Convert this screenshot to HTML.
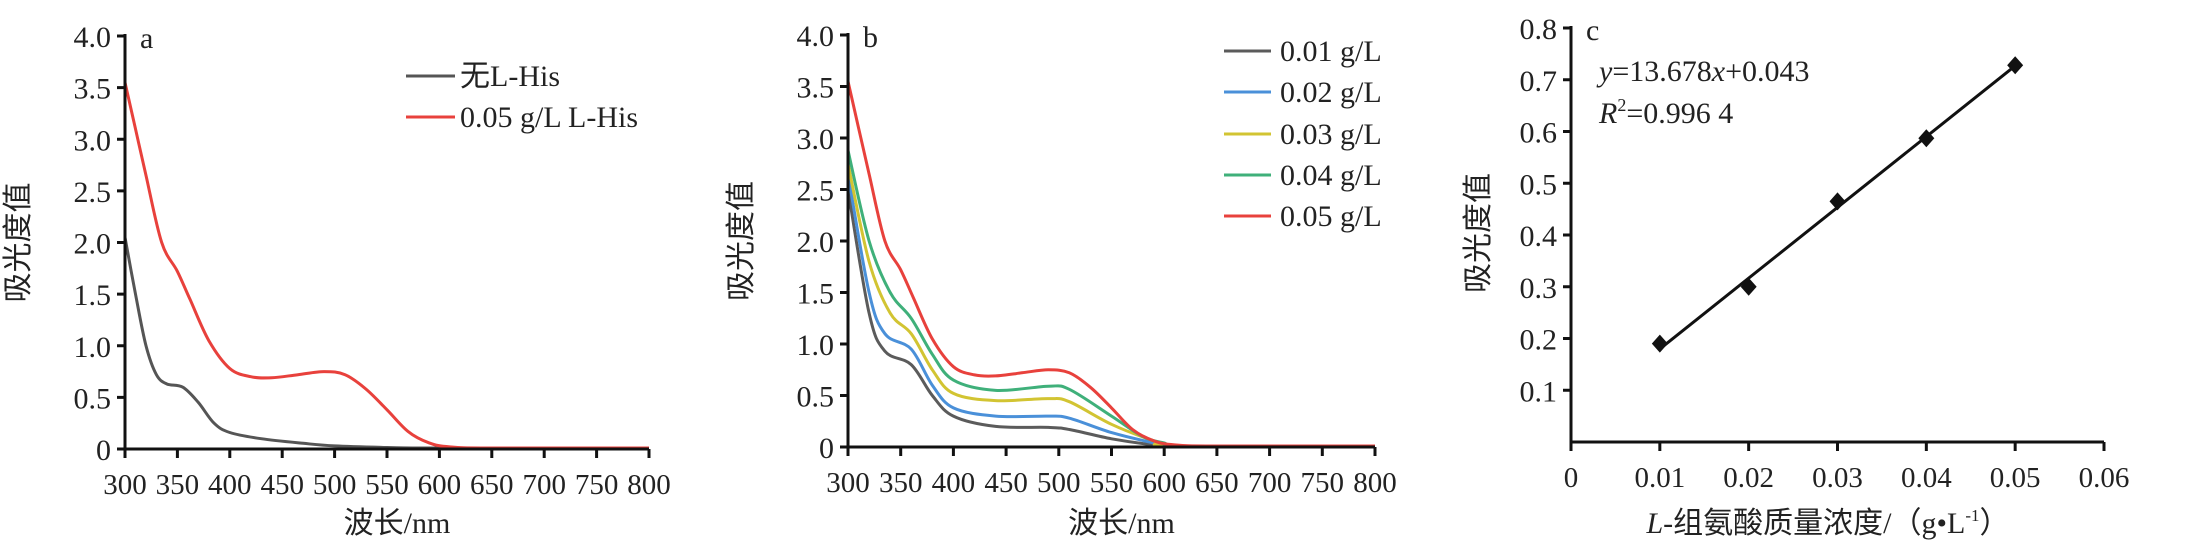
<!DOCTYPE html>
<html><head><meta charset="utf-8"><style>
html,body{margin:0;padding:0;background:#fff}
svg{display:block}
text{font-family:"Liberation Serif","Noto Serif CJK SC",serif;fill:#222}
.cn{font-family:"Liberation Serif","Noto Sans CJK SC",sans-serif}
</style></head><body>
<svg id="s" width="2196" height="552" xmlns="http://www.w3.org/2000/svg"></svg>
<script>
const s=document.getElementById('s');let h='';
function T(x,y,t,o){o=o||{};h+=`<text x="${x}" y="${y}" font-size="${o.fs||30}" text-anchor="${o.a||'middle'}" ${o.tr?`transform="${o.tr}"`:''} ${o.cls?`class="${o.cls}"`:''} ${o.st?`font-style="italic"`:''}>${t}</text>`;}
function L(x1,y1,x2,y2,c,w){h+=`<line x1="${x1}" y1="${y1}" x2="${x2}" y2="${y2}" stroke="${c||'#111'}" stroke-width="${w||3}"/>`;}
function smooth(pts){let d=`M${pts[0][0]},${pts[0][1]}`;for(let i=0;i<pts.length-1;i++){const p0=pts[i-1]||pts[i],p1=pts[i],p2=pts[i+1],p3=pts[i+2]||p2;const c1=[p1[0]+(p2[0]-p0[0])/6,p1[1]+(p2[1]-p0[1])/6],c2=[p2[0]-(p3[0]-p1[0])/6,p2[1]-(p3[1]-p1[1])/6];d+=` C${c1[0].toFixed(1)},${c1[1].toFixed(1)} ${c2[0].toFixed(1)},${c2[1].toFixed(1)} ${p2[0].toFixed(1)},${p2[1].toFixed(1)}`;}return d;}
function spectral(x0,x1,y0,y1,lab,series){
  const X=v=>x0+(v-300)/500*(x1-x0),Y=v=>y0+(4-v)/4*(y1-y0);
  series.forEach(([c,d])=>{h+=`<path d="${smooth(d.map(p=>[X(p[0]),Y(p[1])]))}" fill="none" stroke="${c}" stroke-width="3"/>`;});
  L(x0,y0-2,x0,y1+1);L(x0,y1,x1,y1);
  for(let i=0;i<=8;i++){const y=Y(i*0.5);L(x0-8,y,x0,y);T(x0-14,y+11,i==0?'0':(i*0.5).toFixed(1),{a:'end'});}
  for(let i=0;i<=10;i++){const x=X(300+i*50);L(x,y1,x,y1+9);T(x,y1+45,300+i*50,{fs:29});}
  T(x0+15,y0+12,lab,{a:'start'});
  T((x0+x1)/2+10,533,'波长/nm',{cls:'cn',fs:30});
  T(0,0,'吸光度值',{cls:'cn',fs:30,tr:`translate(${x0-97},${(y0+y1)/2}) rotate(-90)`});
}
const red=[[300,3.55],[310,3.1],[320,2.65],[335,2.0],[350,1.72],[362,1.45],[380,1.05],[400,0.78],[420,0.7],[440,0.69],[465,0.72],[490,0.75],[510,0.72],[530,0.58],[550,0.38],[570,0.17],[590,0.06],[610,0.02],[650,0.01],[800,0.01]];
spectral(125,649,36,449,'a',[
 ['#555',[[300,2.05],[310,1.5],[320,1.0],[330,0.72],[340,0.63],[355,0.6],[370,0.45],[385,0.25],[400,0.16],[430,0.1],[470,0.055],[500,0.03],[550,0.015],[600,0.01],[800,0.01]]],
 ['#e8413c',red]]);
T(406+54,86,'无L-His',{a:'start',cls:'cn'});L(406,76,455,76,'#555',3);
L(406,117,455,117,'#e8413c',3);T(460,127,'0.05 g/L L-His',{a:'start'});
spectral(848,1375,35,447,'b',[
 ['#5b5b5b',[[300,2.5],[320,1.3],[335,0.93],[360,0.8],[380,0.5],[400,0.3],[440,0.2],[490,0.19],[510,0.17],[550,0.08],[590,0.02],[610,0.005],[800,0.005]]],
 ['#4a90d9',[[300,2.65],[320,1.5],[335,1.1],[360,0.95],[380,0.6],[400,0.38],[440,0.3],[490,0.3],[510,0.28],[550,0.14],[590,0.04],[610,0.01],[800,0.01]]],
 ['#d2c432',[[300,2.75],[320,1.8],[340,1.3],[360,1.1],[380,0.75],[400,0.52],[440,0.45],[490,0.47],[510,0.44],[550,0.22],[590,0.06],[610,0.01],[800,0.01]]],
 ['#3fb07a',[[300,2.88],[320,2.0],[340,1.5],[360,1.25],[380,0.9],[400,0.65],[440,0.55],[490,0.59],[510,0.56],[550,0.3],[580,0.1],[600,0.04],[620,0.01],[800,0.01]]],
 ['#e8413c',red]]);
[['#5b5b5b',51,'0.01'],['#4a90d9',92,'0.02'],['#d2c432',134,'0.03'],['#3fb07a',175,'0.04'],['#e8413c',216,'0.05']].forEach(([c,y,t])=>{L(1224,y,1271,y,c,3);T(1280,y+10,t+' g/L',{a:'start'});});
// panel c
(function(){const x0=1571,x1=2104,y0=28,y1=442;const X=v=>x0+v/0.06*(x1-x0),Y=v=>y1-v/0.8*(y1-y0);
 L(x0,y0-2,x0,y1+1);L(x0,y1,x1,y1);
 for(let i=1;i<=8;i++){const y=Y(i*0.1);L(x0-8,y,x0,y);T(x0-14,y+11,(i*0.1).toFixed(1),{a:'end'});}
 for(let i=0;i<=6;i++){const x=X(i*0.01);L(x,y1,x,y1+9);T(x,y1+45,i==0?'0':(i*0.01).toFixed(2),{fs:29});}
 L(X(0.01),Y(0.1798),X(0.05),Y(0.7269),'#111',3);
 [[0.01,0.19],[0.02,0.30],[0.03,0.465],[0.04,0.587],[0.05,0.728]].forEach(([a,b])=>{const x=X(a),y=Y(b);h+=`<path d="M${x},${y-9} L${x+8},${y} L${x},${y+9} L${x-8},${y}Z" fill="#111"/>`;});
 T(1586,40,'c',{a:'start'});
 h+=`<text x="1599" y="81" font-size="30"><tspan font-style="italic">y</tspan>=13.678<tspan font-style="italic">x</tspan>+0.043</text>`;
 h+=`<text x="1599" y="123" font-size="30"><tspan font-style="italic">R</tspan><tspan font-size="18" dy="-12">2</tspan><tspan dy="12">=0.996 4</tspan></text>`;
 T(0,0,'吸光度值',{cls:'cn',fs:30,tr:`translate(1488,233) rotate(-90)`});
 h+=`<text x="1828" y="533" font-size="30" text-anchor="middle" class="cn"><tspan font-style="italic">L</tspan>-组氨酸质量浓度/（g•L<tspan font-size="17" dy="-12">-1</tspan><tspan dy="12">）</tspan></text>`;
})();
s.innerHTML=h;
</script>
</body></html>
